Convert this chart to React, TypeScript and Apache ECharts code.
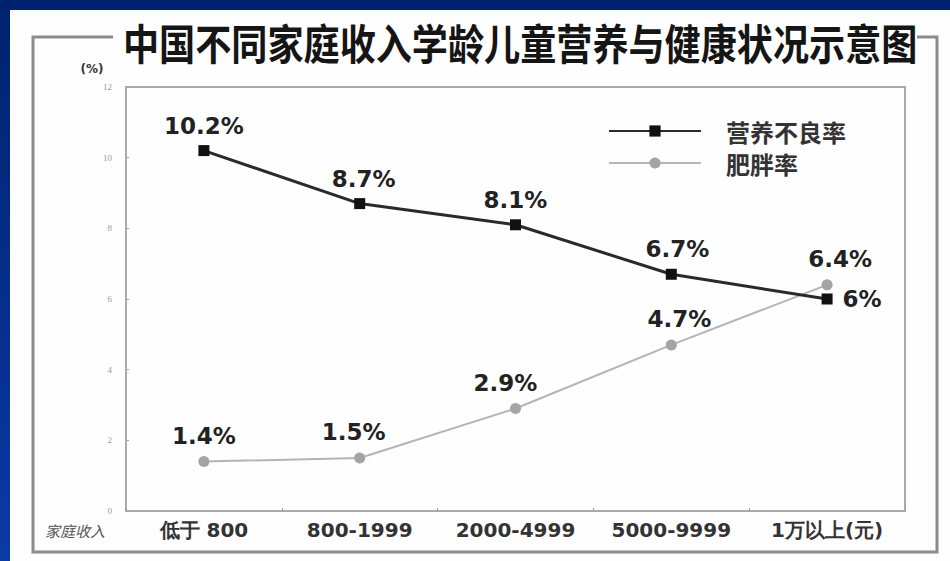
import React, { useEffect, useRef } from "react";
import * as echarts from "echarts";

const categories = ["低于 800", "800-1999", "2000-4999", "5000-9999", "1万以上(元)"];
const malnutrition = [10.2, 8.7, 8.1, 6.7, 6.0];
const obesity = [1.4, 1.5, 2.9, 4.7, 6.4];
const malnutritionLabels = ["10.2%", "8.7%", "8.1%", "6.7%", "6%"];
const obesityLabels = ["1.4%", "1.5%", "2.9%", "4.7%", "6.4%"];
const seriesNames = ["营养不良率", "肥胖率"];
const titleText = "中国不同家庭收入学龄儿童营养与健康状况示意图";

export default function App() {
  const ref = useRef<HTMLDivElement>(null);
  useEffect(() => {
    if (!ref.current) return;
    const chart = echarts.init(ref.current, null, { renderer: "svg" });
    const labelBase = {
      show: true,
      fontFamily: "DejaVu Sans",
      fontWeight: "bold",
      fontSize: 23,
      color: "#222",
    };
    chart.setOption({
      animation: false,
      backgroundColor: {
        type: "linear",
        x: 0,
        y: 0,
        x2: 0,
        y2: 1,
        colorStops: [
          { offset: 0, color: "#00226e" },
          { offset: 1, color: "#0a3aa6" },
        ],
      },
      graphic: [
        { type: "rect", shape: { x: 10, y: 10, width: 940, height: 551 }, style: { fill: "#fefefe" }, z: -10 },
        {
          type: "polyline",
          shape: { points: [[113, 37], [33, 37], [33, 552], [937, 552], [937, 37], [917, 37]] },
          style: { stroke: "#8c8c8c", lineWidth: 3, fill: "none" },
        },
        {
          type: "text",
          x: 123,
          y: 42,
          scaleX: 0.86,
          style: {
            text: titleText,
            fontFamily: "Noto Sans CJK SC",
            fontWeight: "bold",
            fontSize: 42,
            fill: "#151515",
            align: "left",
            verticalAlign: "middle",
          },
        },
        {
          type: "text",
          x: 92,
          y: 69,
          style: { text: "(%)", fontFamily: "DejaVu Sans", fontWeight: "bold", fontSize: 12, fill: "#333", align: "center", verticalAlign: "middle" },
        },
        {
          type: "text",
          x: 45,
          y: 530,
          style: { text: "家庭收入", fontFamily: "Noto Sans CJK SC", fontStyle: "italic", fontSize: 15, fill: "#555", align: "left", verticalAlign: "middle" },
        },
      ],
      legend: {
        orient: "vertical",
        left: 603,
        top: 114,
        itemWidth: 92,
        itemHeight: 14,
        itemGap: 8,
        itemTextGap: 26,
        data: seriesNames,
        textStyle: {
          fontFamily: "Noto Sans CJK SC",
          fontWeight: "bold",
          fontSize: 24,
          lineHeight: 24,
          color: "#333",
          padding: [0, 0, 0, 20],
        },
      },
      grid: { left: 126, top: 87, right: 45, bottom: 50, show: true, borderColor: "#aaa", borderWidth: 2 },
      xAxis: {
        type: "category",
        data: categories,
        boundaryGap: true,
        axisLine: { lineStyle: { color: "#aaa", width: 2 } },
        axisTick: { show: true, inside: true, length: 3, lineStyle: { color: "#999" } },
        axisLabel: { fontFamily: "DejaVu Sans", fontWeight: "bold", fontSize: 20, color: "#333", margin: 9 },
      },
      yAxis: {
        type: "value",
        min: 0,
        max: 12,
        interval: 2,
        splitLine: { show: false },
        axisLine: { show: true, lineStyle: { color: "#aaa", width: 2 } },
        axisTick: { show: true, inside: true, length: 3, lineStyle: { color: "#aaa" } },
        axisLabel: { fontFamily: "serif", fontSize: 9, color: "#999", margin: 14 },
      },
      series: [
        {
          name: seriesNames[0],
          type: "line",
          data: malnutrition.map((v, i) => ({
            value: v,
            label:
              i === 4
                ? { position: "right", distance: 10, formatter: malnutritionLabels[i] }
                : { position: "top", distance: 8, offset: [i === 3 ? 6 : i === 1 ? 4 : 0, 0], formatter: malnutritionLabels[i] },
          })),
          symbol: "rect",
          symbolSize: 11,
          lineStyle: { color: "#2a2a2a", width: 3 },
          itemStyle: { color: "#111" },
          label: labelBase,
          z: 3,
        },
        {
          name: seriesNames[1],
          type: "line",
          data: obesity.map((v, i) => ({
            value: v,
            label: {
              position: "top",
              distance: 9,
              offset: [i === 4 ? 13 : i === 3 ? 8 : i === 2 ? -10 : i === 1 ? -6 : 0, 0],
              formatter: obesityLabels[i],
            },
          })),
          symbol: "circle",
          symbolSize: 11,
          lineStyle: { color: "#b4b4b4", width: 2 },
          itemStyle: { color: "#a4a4a4" },
          label: labelBase,
          z: 2,
        },
      ],
    });
    return () => chart.dispose();
  }, []);
  return <div ref={ref} style={{ position: "fixed", left: 0, top: 0, width: 950, height: 561 }} />;
}
